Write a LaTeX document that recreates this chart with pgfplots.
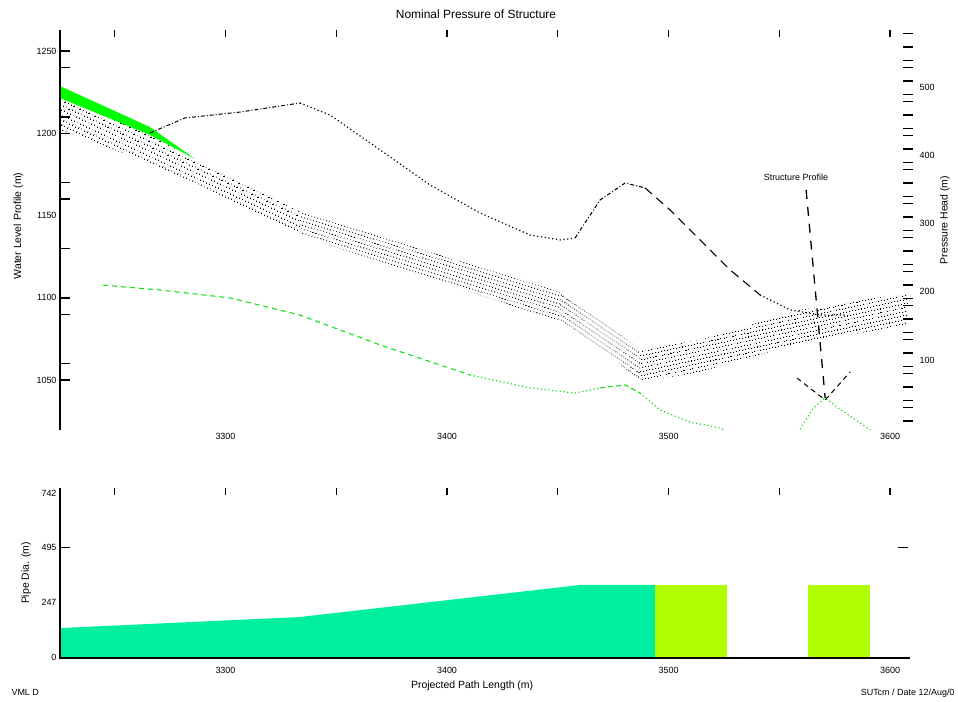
\documentclass[border=0pt]{standalone}
\usepackage{fontspec}
\setmainfont{Liberation Sans}
\usepackage{pgfplots}
\pgfplotsset{compat=1.18}
\usetikzlibrary{patterns.meta}
\definecolor{bandgreen}{RGB}{0,255,0}
\definecolor{linegreen}{RGB}{20,225,20}
\definecolor{areagreen}{RGB}{0,238,160}
\definecolor{bargreen}{RGB}{176,255,0}

\tikzdeclarepattern{
  name=dotrows,
  parameters={\pgfkeysvalueof{/pgf/pattern keys/angle}},
  bounding box={(0,0) and (2.8bp,4.4bp)},
  tile size={(2.8bp,4.4bp)},
  tile transformation={rotate=\pgfkeysvalueof{/pgf/pattern keys/angle}},
  defaults={angle/.initial=0},
  code={\fill (0,0) rectangle (1.3bp,1.2bp);},
}

\pgfplotsset{
  base/.style={
    scale only axis, width=848bp,
    xmin=3225.3, xmax=3608.1,
    /pgf/number format/assume math mode=true,
    /pgf/number format/1000 sep={},
    tick label style={font=\fontsize{9}{10}\selectfont},
    label style={font=\fontsize{10.5}{12}\selectfont},
    axis line style={draw=none},
    tick style={black, line width=1.4bp},
  },
  top/.style={base, at={(60bp,272bp)}, anchor=south west, height=400bp},
  bot/.style={base, at={(60bp,44bp)}, anchor=south west, height=170bp},
  dashdot/.style={black, line width=1bp, dash pattern=on 4bp off 2bp on 1bp off 2bp},
  dots/.style={line width=1.2bp, dash pattern=on 1.2bp off 2.6bp},
  longdash/.style={black, line width=1.1bp, dash pattern=on 9bp off 6bp},
}

\begin{document}
\begin{tikzpicture}[x=1bp,y=1bp]
\useasboundingbox (0,0) rectangle (958,702);

% ---------------- top chart: data, left labels, x ticks ----------------
\begin{axis}[top, ymin=1019.75, ymax=1262.76,
  xtick={3250,3300,...,3600}, xtick pos=right, xticklabel pos=left,
  xticklabels={,3300,,3400,,3500,,3600},
  xtick align=inside, major tick length=7bp,
  ytick={1050,1100,...,1250}, ytick pos=left, ytick style={draw=none},
  ylabel={Water Level Profile (m)},
  ylabel style={at={(axis description cs:-0.049,0.51)}, anchor=center},
]
% hatched band (pieces)
\addplot[draw=none, pattern={dotrows[angle=-25]}, pattern color=black]
  coordinates {(3225.3,1221.4) (3265.9,1199.0) (3286.2,1183.8) (3333.6,1152.2)
               (3333.6,1138.2) (3288.5,1168.6) (3265.9,1182.0) (3225.3,1202.0)} -- cycle;
\addplot[draw=none, pattern={dotrows[angle=-17]}, pattern color=black]
  coordinates {(3333.6,1152.2) (3401.4,1124.2) (3451.0,1103.6)
               (3451.0,1085.4) (3401.4,1107.8) (3333.6,1138.2)} -- cycle;
\addplot[draw=none, pattern={dotrows[angle=-34]}, pattern color=black]
  coordinates {(3451.0,1103.6) (3475.9,1080.5) (3487.2,1068.4)
               (3487.2,1048.9) (3475.9,1062.3) (3451.0,1085.4)} -- cycle;
\addplot[draw=none, pattern={dotrows[angle=12]}, pattern color=black]
  coordinates {(3487.2,1068.4) (3514.2,1074.4) (3559.4,1092.7) (3608.1,1103.0)
               (3608.1,1083.5) (3559.4,1072.6) (3514.2,1055.0) (3487.2,1048.9)} -- cycle;
% green band
\addplot[draw=none, fill=bandgreen]
  coordinates {(3225.3,1228.7) (3265.9,1203.8) (3286.2,1184.5) (3265.9,1199.0) (3225.3,1221.4)} -- cycle;
% black pressure line
\addplot[dashdot] coordinates {(3265.9,1200.2) (3281.7,1209.3) (3306.6,1212.9) (3333.6,1218.4)};
\addplot[black, dots] coordinates {(3333.6,1218.4) (3347.2,1211.1) (3369.8,1189.9) (3392.3,1168.6)
  (3414.9,1151.6) (3437.5,1138.2) (3451.0,1135.2) (3457.8,1136.4)};
\addplot[dashdot] coordinates {(3457.8,1136.4) (3469.1,1159.5) (3480.4,1169.8) (3489.4,1166.8)};
\addplot[longdash] coordinates {(3489.4,1166.8) (3500.7,1153.4) (3514.2,1135.2) (3527.8,1117.0) (3541.3,1101.8)};
\addplot[black, dots] coordinates {(3541.3,1101.8) (3554.9,1092.7) (3568.4,1089.6) (3579.7,1089.6)};
% green line
\addplot[linegreen, line width=1.1bp, dash pattern=on 5bp off 4bp] coordinates {(3244.7,1107.8) (3270.4,1104.8)
  (3302.0,1100.0) (3333.6,1089.6) (3369.8,1071.4) (3410.4,1053.2)};
\addplot[linegreen, dots] coordinates {(3410.4,1053.2) (3437.5,1045.3) (3457.8,1042.2) (3469.1,1045.3)};
\addplot[linegreen, line width=1.1bp, dash pattern=on 5bp off 3bp] coordinates {(3469.1,1045.3) (3480.4,1047.1) (3487.2,1042.2)};
\addplot[linegreen, dots] coordinates {(3487.2,1042.2) (3496.2,1031.9) (3509.7,1024.6) (3523.3,1021.0)
  (3536.8,1010.6) (3554.9,1010.6) (3565.3,1033.1) (3570.7,1039.2) (3576.6,1033.1) (3591.0,1019.8) (3600.0,1010.6)};
% annotation arrow
\addplot[black, line width=1.3bp, dash pattern=on 9bp off 8bp] coordinates {(3562.1,1165.6) (3570.7,1039.2)};
\addplot[black, line width=1bp, dash pattern=on 5bp off 4bp] coordinates {(3558.0,1051.3) (3570.7,1038.0) (3582.0,1055.0)};
\node[font=\fontsize{9}{10}\selectfont] at (axis cs:3557.5,1173.5) {Structure Profile};
\end{axis}

% left tick marks + left axis line
\begin{axis}[top, ymin=1019.75, ymax=1262.76, hide x axis, clip=false,
  ytick={1050,1060,1090,1100,1130,1160,1170,1200,1210,1240,1250}, yticklabels={},
  ytick pos=left, ytick align=inside, major tick length=10bp]
\draw[line width=1.6bp] (rel axis cs:0,0) -- (rel axis cs:0,1);
\end{axis}

% right tick marks
\begin{axis}[top, ymin=-3, ymax=585, hide x axis,
  ytick={10,30,40,60,80,90,110,130,140,160,180,190,210,230,240,260,280,290,310,330,340,
         360,380,390,410,430,440,460,480,490,510,530,540,560,580},
  yticklabels={}, ytick pos=right, ytick align=center, major tick length=10bp]
\end{axis}

% right labels
\begin{axis}[top, ymin=-3, ymax=585, hide x axis,
  ytick={100,200,...,500}, ytick pos=right, yticklabel pos=right, ytick style={draw=none},
  yticklabel style={xshift=8bp},
  ylabel={Pressure Head (m)},
  ylabel style={at={(axis description cs:1.0436,0.525)}, anchor=center}]
\end{axis}

% ---------------- bottom chart ----------------
\begin{axis}[bot, ymin=-4.5, ymax=765,
  xtick={3250,3300,...,3600}, xtick pos=right, xticklabel pos=left,
  xticklabels={,3300,,3400,,3500,,3600},
  xtick align=inside, major tick length=7bp,
  xticklabel style={yshift=-6bp},
  ytick={0,247,495,742}, ytick pos=left, ytick style={draw=none},
  ylabel={Pipe Dia. (m)},
  ylabel style={at={(axis description cs:-0.040,0.5)}, anchor=center},
  xlabel={Projected Path Length (m)},
  xlabel style={at={(axis description cs:0.486,-0.165)}, anchor=center},
]
\addplot[draw=none, fill=areagreen]
  coordinates {(3225.3,0) (3225.3,131) (3333.6,181) (3460.1,326) (3494.0,326) (3494.0,0)} -- cycle;
\addplot[draw=none, fill=bargreen]
  coordinates {(3494.0,0) (3494.0,326) (3526.4,326) (3526.4,0)} -- cycle;
\addplot[draw=none, fill=bargreen]
  coordinates {(3563.0,0) (3563.0,326) (3591.0,326) (3591.0,0)} -- cycle;
\end{axis}

\begin{axis}[bot, ymin=-4.5, ymax=765, hide x axis, clip=false,
  ytick={495}, yticklabels={}, ytick pos=both, ytick align=inside, major tick length=10bp]
\draw[line width=1.6bp] (rel axis cs:0,1) -- (rel axis cs:0,0) -- (rel axis cs:1.0024,0);
\end{axis}

% ---------------- free texts ----------------
\node[font=\fontsize{12}{14}\selectfont] at (476,688) {Nominal Pressure of Structure};
\node[anchor=base west, font=\fontsize{9}{10}\selectfont] at (8,6) {VML D};
\node[anchor=base east, font=\fontsize{9}{10}\selectfont] at (958,6) {SUTcm / Date 12/Aug/0};
\end{tikzpicture}
\end{document}
